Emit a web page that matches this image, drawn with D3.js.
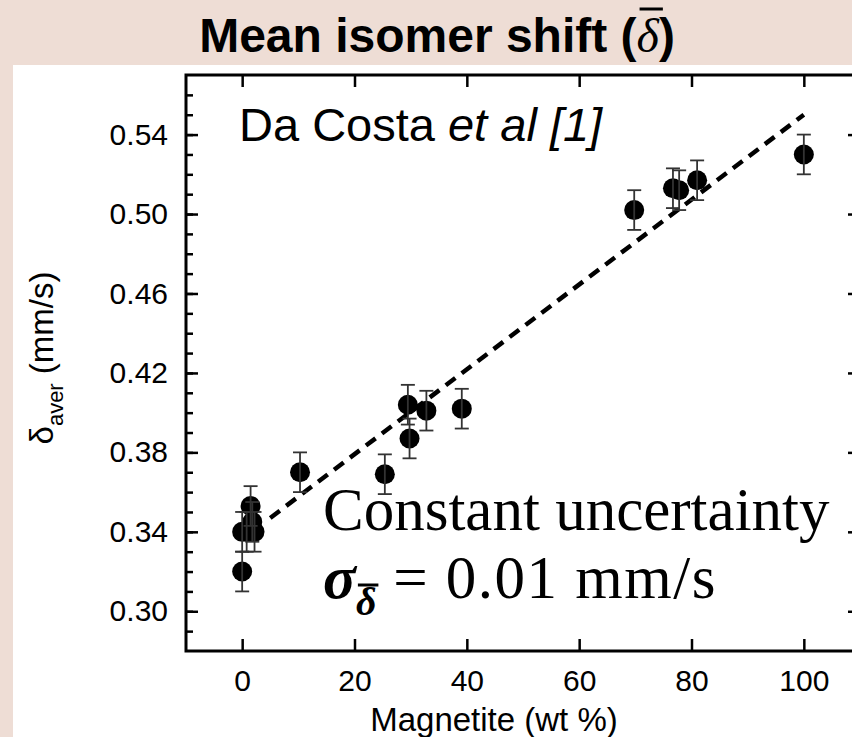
<!DOCTYPE html>
<html>
<head>
<meta charset="utf-8">
<script src="https://cdn.jsdelivr.net/npm/d3@7"></script>
<style>
  body { margin: 0; background: #eeddd5; }
  svg { display: block; }
</style>
</head>
<body>
<svg id="chart" width="852" height="737"></svg>
<script>
// Mean isomer shift vs magnetite content
const magnetite   = [0, 0, 0.8, 1.5, 1.8, 2.2, 10.3, 25.4, 29.5, 29.8, 32.8, 39.1, 69.8, 76.7, 77.8, 81.0, 100];
const isomerShift = [0.320, 0.340, 0.340, 0.353, 0.345, 0.340, 0.370, 0.369, 0.404, 0.387, 0.401, 0.402, 0.502, 0.513, 0.512, 0.517, 0.530];
const uncertainty = 0.01;            // constant error bar, mm/s
const fitX = [5, 100];               // linear trend end points
const fitY = [0.347, 0.550];
const xTicks = [0, 20, 40, 60, 80, 100];
const yTicks = [0.30, 0.34, 0.38, 0.42, 0.46, 0.50, 0.54];
const yMinorTicks = d3.range(29, 57).map(d => d / 100);

const W = 852, H = 737;
const plot = { left: 186, right: 860, top: 75, bottom: 651 };

const svg = d3.select("#chart");

// page background and white panel
svg.append("rect").attr("width", W).attr("height", H).attr("fill", "#eeddd5");
svg.append("rect").attr("x", 13).attr("y", 65).attr("width", W - 13).attr("height", H - 65).attr("fill", "#ffffff");

const x = d3.scaleLinear().domain([-10, 110]).range([plot.left, plot.right]);
const y = d3.scaleLinear().domain([0.28, 0.57]).range([plot.bottom, plot.top]);

const SANS = "'Liberation Sans', Arial, sans-serif";
const SERIF = "'Liberation Serif', 'Times New Roman', serif";

function styleAxis(g, fontSize) {
  g.select(".domain").remove();
  g.selectAll(".tick line").attr("stroke", "#000").attr("stroke-width", 2.5);
  g.selectAll(".tick text").attr("fill", "#000").attr("font-family", SANS).attr("font-size", fontSize);
}

// left axis: major + minor ticks pointing inward
svg.append("g").attr("transform", `translate(${plot.left},0)`)
  .call(d3.axisLeft(y).tickValues(yMinorTicks).tickSize(-7).tickFormat(""))
  .call(g => styleAxis(g, 0));
svg.append("g").attr("transform", `translate(${plot.left},0)`)
  .call(d3.axisLeft(y).tickValues(yTicks).tickSize(-12).tickPadding(18).tickFormat(d3.format(".2f")))
  .call(g => styleAxis(g, 30));

// right axis: major ticks only
svg.append("g").attr("transform", `translate(${plot.right},0)`)
  .call(d3.axisRight(y).tickValues(yTicks).tickSize(-12).tickFormat(""))
  .call(g => styleAxis(g, 0));

// bottom axis
svg.append("g").attr("transform", `translate(0,${plot.bottom})`)
  .call(d3.axisBottom(x).tickValues(xTicks).tickSize(-12).tickPadding(19).tickFormat(d3.format("d")))
  .call(g => styleAxis(g, 30));

// top axis
svg.append("g").attr("transform", `translate(0,${plot.top})`)
  .call(d3.axisTop(x).tickValues(xTicks).tickSize(-12).tickFormat(""))
  .call(g => styleAxis(g, 0));

// frame
svg.append("rect")
  .attr("x", plot.left).attr("y", plot.top)
  .attr("width", plot.right - plot.left).attr("height", plot.bottom - plot.top)
  .attr("fill", "none").attr("stroke", "#000").attr("stroke-width", 3);

// dashed linear trend
svg.append("path")
  .datum(fitX.map((d, i) => [d, fitY[i]]))
  .attr("d", d3.line().x(d => x(d[0])).y(d => y(d[1])))
  .attr("fill", "none").attr("stroke", "#000")
  .attr("stroke-width", 4.5).attr("stroke-dasharray", "12,8");

const points = magnetite.map((m, i) => ({ m, s: isomerShift[i] }));

// markers
svg.append("g").selectAll("circle").data(points).join("circle")
  .attr("cx", d => x(d.m)).attr("cy", d => y(d.s)).attr("r", 10)
  .attr("fill", "#000");

// error bars
const eb = svg.append("g").attr("stroke", "#333").attr("stroke-width", 1.8);
points.forEach(d => {
  const cx = x(d.m), y0 = y(d.s - uncertainty), y1 = y(d.s + uncertainty);
  eb.append("line").attr("x1", cx).attr("x2", cx).attr("y1", y0).attr("y2", y1);
  eb.append("line").attr("x1", cx - 7).attr("x2", cx + 7).attr("y1", y0).attr("y2", y0);
  eb.append("line").attr("x1", cx - 7).attr("x2", cx + 7).attr("y1", y1).attr("y2", y1);
});

// axis titles
svg.append("text")
  .attr("x", 494).attr("y", 731).attr("text-anchor", "middle")
  .attr("font-family", SANS).attr("font-size", 33).attr("fill", "#000")
  .text("Magnetite (wt %)");

const yl = svg.append("text")
  .attr("transform", "translate(53,358) rotate(-90)")
  .attr("text-anchor", "middle")
  .attr("font-family", SANS).attr("font-size", 33).attr("fill", "#000");
yl.append("tspan").text("δ");
yl.append("tspan").attr("font-size", 22).attr("dy", 10).text("aver");
yl.append("tspan").attr("dy", -10).text(" (mm/s)");

// title with overlined delta
const title = svg.append("text")
  .attr("x", 437).attr("y", 52).attr("text-anchor", "middle")
  .attr("font-family", SANS).attr("font-weight", "bold").attr("font-size", 48).attr("fill", "#000");
title.append("tspan").text("Mean isomer shift (");
title.append("tspan").attr("font-family", SERIF).attr("font-style", "italic").attr("font-weight", "normal").text("δ");
title.append("tspan").text(")");
{
  const e = title.node().getExtentOfChar(19);
  svg.append("line")
    .attr("x1", e.x + 3).attr("x2", e.x + e.width + 4)
    .attr("y1", e.y).attr("y2", e.y)
    .attr("stroke", "#000").attr("stroke-width", 3);
}

// source note
const src = svg.append("text")
  .attr("x", 239).attr("y", 141)
  .attr("font-family", SANS).attr("font-size", 47).attr("fill", "#000");
src.append("tspan").text("Da Costa ");
src.append("tspan").attr("font-style", "italic").text("et al [1]");

// uncertainty note
svg.append("text")
  .attr("x", 323).attr("y", 530)
  .attr("font-family", SERIF).attr("font-size", 61).attr("fill", "#000")
  .text("Constant uncertainty");

const sig = svg.append("text")
  .attr("x", 323).attr("y", 598)
  .attr("font-family", SERIF).attr("font-size", 61).attr("fill", "#000");
sig.append("tspan").attr("font-weight", "bold").attr("font-style", "italic").text("σ");
sig.append("tspan").attr("font-weight", "bold").attr("font-style", "italic").attr("font-size", 40).attr("dy", 17).text("δ");
sig.append("tspan").attr("dy", -17).attr("letter-spacing", 1.5).text(" = 0.01 mm/s");
{
  const e = sig.node().getExtentOfChar(1);
  svg.append("line")
    .attr("x1", e.x + 2).attr("x2", e.x + e.width + 2)
    .attr("y1", e.y + 6).attr("y2", e.y + 6)
    .attr("stroke", "#000").attr("stroke-width", 3);
}
</script>
</body>
</html>
